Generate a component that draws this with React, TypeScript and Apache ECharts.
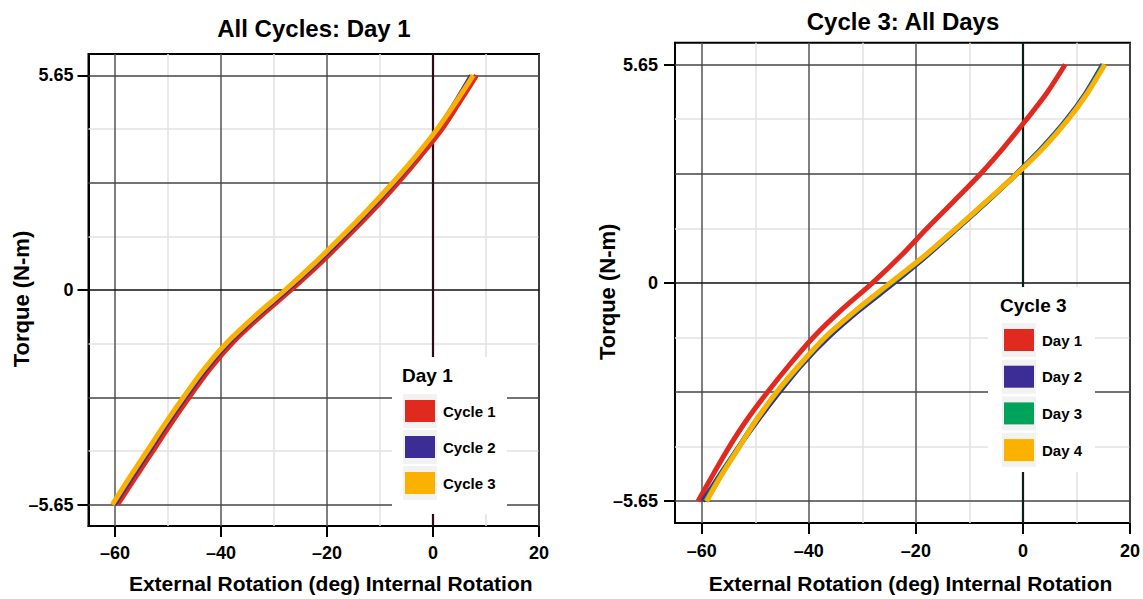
import React, { useEffect, useRef } from "react";
import * as echarts from "echarts";

// ---- data (x = rotation in deg, y = torque in N-m) ----
const Y_LEVELS = [-5.65, -4.95, -4.25, -3.55, -2.825, -2.1, -1.4, -0.7, 0, 0.7, 1.4, 2.1, 2.825, 3.5, 4.2, 4.9, 5.65];

// left panel: Day 1, cycles 1..3
const CYCLE1 = [-59.5, -56.2, -52.9, -49.6, -46.0, -42.2, -37.9, -32.6, -26.8, -21.3, -16.2, -11.3, -6.6, -2.5, 1.5, 4.8, 8.2];
const CYCLE2 = [-60.1, -56.9, -53.6, -50.3, -46.7, -42.9, -38.6, -33.3, -27.5, -22.0, -16.9, -12.0, -7.3, -3.2, 0.7, 4.0, 7.2];
const CYCLE3 = [-60.5, -57.3, -54.0, -50.7, -47.1, -43.3, -39.0, -33.7, -27.9, -22.4, -17.3, -12.4, -7.6, -3.4, 0.6, 4.1, 7.6];

// right panel: Cycle 3, days 1..4
const DAY1 = [-60.7, -57.85, -54.9, -51.6, -47.7, -43.5, -39.1, -33.9, -28.1, -22.8, -18.0, -13.0, -7.9, -3.6, 0.5, 4.4, 7.9];
const DAY2 = [-59.8, -56.5, -53.1, -49.5, -45.5, -41.2, -36.3, -30.5, -24.1, -18.0, -12.3, -6.7, -1.2, 3.6, 8.0, 11.7, 14.9];
const DAY3 = [-59.3, -56.3, -53.1, -49.8, -45.9, -41.5, -36.8, -31.0, -24.6, -18.3, -12.5, -6.8, -1.1, 3.8, 8.2, 11.9, 15.1];
const DAY4 = [-59.1, -56.2, -53.0, -49.8, -46.0, -41.6, -36.9, -31.1, -24.8, -18.4, -12.6, -6.9, -1.1, 3.9, 8.3, 12.0, 15.3];

const LEFT_NAMES = ["Cycle 1", "Cycle 2", "Cycle 3"];
const RIGHT_NAMES = ["Day 1", "Day 2", "Day 3", "Day 4"];

const X_TICKS = [-60, -40, -20, 0, 20];
const Y_TICKS = [-5.65, 0, 5.65];
const X_MAJOR = [-60, -40, -20, 20];
const X_MINOR = [-50, -30, -10, 10];
const Y_MAJOR = [-5.65, -2.825, 2.825, 5.65];
const Y_MINOR = [-4.2375, -1.4125, 1.4125, 4.2375];

const X_MIN = -65;
const X_MAX = 20;
const Y_MIN = -6.215;
const Y_MAX = 6.215;

// ---- styles ----
const FONT = "Liberation Sans, Arial, Helvetica, sans-serif";
const RED = "#e12a1f";
const PURPLE = "#3b2c96";
const GREEN = "#00a35a";
const ORANGE = "#fab100";
const TILE = "#f2f2f2";

const pairs = (xs: number[], ys: number[]) => xs.map((x, i) => [x, ys[i]]);
const fmt = (v: number) => (v < 0 ? "\u2013" + String(Math.abs(v)) : String(v));

function gridLines(zeroColor: string) {
  const data: any[] = [];
  X_MINOR.forEach((v) => data.push({ xAxis: v, lineStyle: { color: "#e2e2e2", width: 1.5, type: "solid" } }));
  Y_MINOR.forEach((v) => data.push({ yAxis: v, lineStyle: { color: "#e2e2e2", width: 1.5, type: "solid" } }));
  X_MAJOR.forEach((v) => data.push({ xAxis: v, lineStyle: { color: "#555", width: 1.5, type: "solid" } }));
  Y_MAJOR.forEach((v) => data.push({ yAxis: v, lineStyle: { color: "#444", width: 1.5, type: "solid" } }));
  data.push({ yAxis: 0, lineStyle: { color: "#111", width: 1.5, type: "solid" } });
  data.push({ xAxis: 0, lineStyle: { color: zeroColor, width: 2.2, type: "solid" } });
  return {
    silent: true,
    symbol: ["none", "none"],
    label: { show: false },
    emphasis: { disabled: true },
    animation: false,
    z: 1,
    data,
  };
}

function xAxisOf(gridIndex: number, namePad: number, nameGap: number, labelMargin: number) {
  return {
    type: "value",
    gridIndex,
    min: X_MIN,
    max: X_MAX,
    name: "External Rotation (deg) Internal Rotation",
    nameLocation: "middle",
    nameGap,
    nameMoveOverlap: false,
    nameTextStyle: { fontFamily: FONT, fontWeight: "bold", fontSize: 21, color: "#000", padding: [0, 0, 0, namePad] },
    axisLine: { show: true, onZero: false, lineStyle: { color: "#000", width: 2 } },
    axisTick: { show: true, inside: false, customValues: X_TICKS, length: 11, lineStyle: { color: "#000", width: 2 } },
    axisLabel: { customValues: X_TICKS, formatter: fmt, margin: labelMargin, fontFamily: FONT, fontWeight: "bold", fontSize: 18, color: "#000" },
    splitLine: { show: false },
  };
}

function yAxisOf(gridIndex: number, labelMargin: number) {
  return {
    type: "value",
    gridIndex,
    min: Y_MIN,
    max: Y_MAX,
    name: "Torque (N-m)",
    nameLocation: "middle",
    nameRotate: 90,
    nameGap: 56.5,
    nameMoveOverlap: false,
    nameTextStyle: { fontFamily: FONT, fontWeight: "bold", fontSize: 22, color: "#000", padding: [0, 18, 0, 0] },
    axisLine: { show: true, onZero: false, lineStyle: { color: "#000", width: 2 } },
    axisTick: { show: true, inside: false, customValues: Y_TICKS, length: 11, lineStyle: { color: "#000", width: 2 } },
    axisLabel: { customValues: Y_TICKS, formatter: fmt, margin: labelMargin, fontFamily: FONT, fontWeight: "bold", fontSize: 18, color: "#000" },
    splitLine: { show: false },
  };
}

function curve(name: string, color: string, xs: number[], idx: number, width: number, z: number) {
  return {
    type: "line",
    name,
    xAxisIndex: idx,
    yAxisIndex: idx,
    data: pairs(xs, Y_LEVELS),
    smooth: 0.3,
    showSymbol: false,
    symbol: "none",
    color,
    lineStyle: { color, width },
    z,
    silent: true,
    animation: false,
  };
}

// legend layout
const L_LEG = { left: 405, top: 400, gap: 14 };
const R_LEG = { left: 1004, top: 329, gap: 14.7 };
const ITEM_W = 30;
const ITEM_H = 22;

function tiles(leg: { left: number; top: number; gap: number }, n: number) {
  const out: any[] = [];
  for (let i = 0; i < n; i++) {
    out.push({
      type: "rect",
      z: 21,
      silent: true,
      shape: { x: leg.left - 2, y: leg.top - 6 + i * (ITEM_H + leg.gap), width: ITEM_W + 4, height: ITEM_H + 12 },
      style: { fill: TILE },
    });
  }
  return out;
}

export default function App() {
  const ref = useRef<HTMLDivElement>(null);
  useEffect(() => {
    document.body.style.margin = "0";
    if (!ref.current) return;
    const chart = echarts.init(ref.current, null, { renderer: "svg" });
    const option: any = {
      animation: false,
      backgroundColor: "#fff",
      textStyle: { fontFamily: FONT },
      title: [
        { text: "All Cycles: Day 1", left: 314, top: 16, textAlign: "center", padding: 0,
          textStyle: { fontFamily: FONT, fontWeight: "bold", fontSize: 24, color: "#000" } },
        { text: "Cycle 3: All Days", left: 903, top: 9, textAlign: "center", padding: 0,
          textStyle: { fontFamily: FONT, fontWeight: "bold", fontSize: 24, color: "#000" } },
      ],
      grid: [
        { left: 88.5, top: 54, right: 1143 - 539, bottom: 599 - 529.3, show: true, borderColor: "#000", borderWidth: 2, backgroundColor: "transparent" },
        { left: 675, top: 42.7, right: 1143 - 1134, bottom: 599 - 527.3, show: true, borderColor: "#000", borderWidth: 2, backgroundColor: "transparent" },
      ],
      xAxis: [xAxisOf(0, 34, 47, 18), xAxisOf(1, 16, 50, 19)],
      yAxis: [yAxisOf(0, 15), yAxisOf(1, 17)],
      legend: [
        {
          data: LEFT_NAMES, orient: "vertical", left: L_LEG.left, top: L_LEG.top, padding: 0,
          itemGap: L_LEG.gap, itemWidth: ITEM_W, itemHeight: ITEM_H, icon: "rect", selectedMode: false, z: 30,
          textStyle: { fontFamily: FONT, fontWeight: "bold", fontSize: 15, color: "#000", padding: [0, 0, 0, 3] },
        },
        {
          data: RIGHT_NAMES, orient: "vertical", left: R_LEG.left, top: R_LEG.top, padding: 0,
          itemGap: R_LEG.gap, itemWidth: ITEM_W, itemHeight: ITEM_H, icon: "rect", selectedMode: false, z: 30,
          textStyle: { fontFamily: FONT, fontWeight: "bold", fontSize: 15, color: "#000", padding: [0, 0, 0, 3] },
        },
      ],
      graphic: [
        { type: "rect", z: 20, silent: true, shape: { x: 392, y: 357, width: 115, height: 157 }, style: { fill: "#fff" } },
        ...tiles(L_LEG, LEFT_NAMES.length),
        { type: "text", z: 22, silent: true, x: 402, y: 375,
          style: { text: "Day 1", font: `bold 19px ${FONT}`, fill: "#000", verticalAlign: "middle", align: "left" } },
        { type: "rect", z: 20, silent: true, shape: { x: 988, y: 287, width: 107, height: 185 }, style: { fill: "#fff" } },
        ...tiles(R_LEG, RIGHT_NAMES.length),
        { type: "text", z: 22, silent: true, x: 1000, y: 305,
          style: { text: "Cycle 3", font: `bold 19px ${FONT}`, fill: "#000", verticalAlign: "middle", align: "left" } },
      ],
      series: [
        { type: "line", name: "grid-left", xAxisIndex: 0, yAxisIndex: 0, data: [], z: 1, silent: true, markLine: gridLines("#2a0c14") },
        { type: "line", name: "grid-right", xAxisIndex: 1, yAxisIndex: 1, data: [], z: 1, silent: true, markLine: gridLines("#0b1f17") },
        curve(LEFT_NAMES[0], RED, CYCLE1, 0, 5, 10),
        curve(LEFT_NAMES[1], PURPLE, CYCLE2, 0, 4.5, 11),
        curve(LEFT_NAMES[2], ORANGE, CYCLE3, 0, 5, 12),
        curve(RIGHT_NAMES[0], RED, DAY1, 1, 5, 10),
        curve(RIGHT_NAMES[1], PURPLE, DAY2, 1, 5, 11),
        curve(RIGHT_NAMES[2], GREEN, DAY3, 1, 5, 12),
        curve(RIGHT_NAMES[3], ORANGE, DAY4, 1, 5, 13),
      ],
    };
    chart.setOption(option);
    return () => chart.dispose();
  }, []);
  return <div ref={ref} style={{ width: 1143, height: 599 }} />;
}
